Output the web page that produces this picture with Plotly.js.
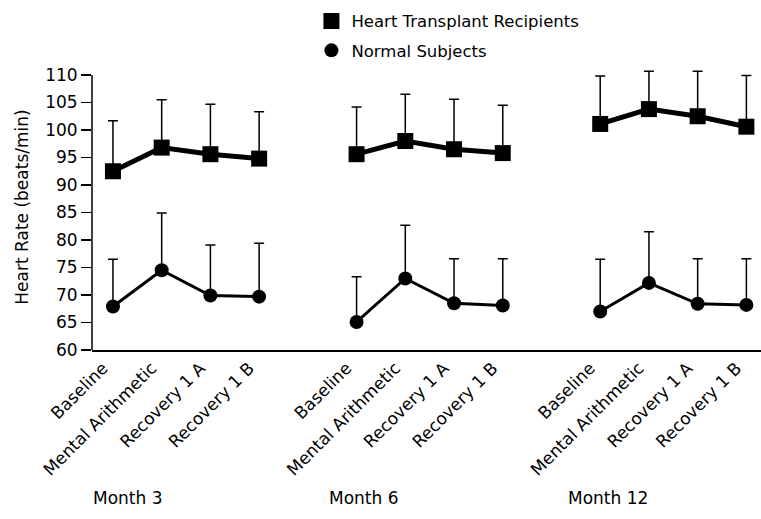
<!DOCTYPE html>
<html>
<head>
<meta charset="utf-8">
<script src="https://cdn.plot.ly/plotly-3.0.1.min.js"></script>
<style>html,body{margin:0;padding:0;background:#fff;}#chart{width:761px;height:519px;}</style>
</head>
<body>
<div id="chart"></div>
<script>
// Data
var conditions = ["Baseline", "Mental Arithmetic", "Recovery 1 A", "Recovery 1 B"];
var months = ["Month 3", "Month 6", "Month 12"];

var transplantMean = [
  [92.5, 96.8, 95.6, 94.8],
  [95.6, 98.0, 96.5, 95.8],
  [101.1, 103.8, 102.5, 100.6]
];
var transplantSD = [
  [9.2, 8.7, 9.1, 8.5],
  [8.6, 8.5, 9.1, 8.7],
  [8.7, 6.9, 8.2, 9.3]
];
var normalMean = [
  [67.9, 74.5, 69.9, 69.7],
  [65.1, 73.0, 68.5, 68.1],
  [67.0, 72.2, 68.4, 68.2]
];
var normalSD = [
  [8.6, 10.4, 9.2, 9.7],
  [8.2, 9.7, 8.1, 8.5],
  [9.5, 9.3, 8.2, 8.4]
];
var seriesNames = ["Heart Transplant Recipients", "Normal Subjects"];
var yMin = 60, yMax = 110;

var FONT = "DejaVu Sans, Liberation Sans, Arial, sans-serif";
var traces = [];
var tickvals = [], ticktext = [];

function xPos(m, i) { return m * (conditions.length + 1) + i; }

months.forEach(function (mName, m) {
  var xs = conditions.map(function (c, i) { return xPos(m, i); });
  xs.forEach(function (x, i) { tickvals.push(x); ticktext.push(conditions[i]); });
  traces.push({
    x: xs, y: transplantMean[m], type: "scatter", mode: "lines+markers",
    showlegend: false, cliponaxis: false,
    line: {color: "#000", width: 5},
    marker: {symbol: "square", size: 16, color: "#000"},
    error_y: {type: "data", symmetric: false, array: transplantSD[m],
      arrayminus: transplantSD[m].map(function () { return 0; }),
      color: "#000", thickness: 1.5, width: 5}
  });
  traces.push({
    x: xs, y: normalMean[m], type: "scatter", mode: "lines+markers",
    showlegend: false, cliponaxis: false,
    line: {color: "#000", width: 3},
    marker: {symbol: "circle", size: 14, color: "#000"},
    error_y: {type: "data", symmetric: false, array: normalSD[m],
      arrayminus: normalSD[m].map(function () { return 0; }),
      color: "#000", thickness: 1.5, width: 5}
  });
});

// legend-only traces
traces.push({x: [null], y: [null], type: "scatter", mode: "markers", name: seriesNames[0],
  legendgroup: "a", marker: {symbol: "square", size: 16, color: "#000"}});
traces.push({x: [null], y: [null], type: "scatter", mode: "markers", name: seriesNames[1],
  legendgroup: "b", marker: {symbol: "circle", size: 14, color: "#000"}});

var annotations = months.map(function (mName, m) {
  return {x: xPos(m, 0) + [0.3, 0.15, 0.16][m], xref: "x", y: 498, yref: "paper",
    text: mName, showarrow: false, xanchor: "center", yanchor: "middle",
    font: {family: FONT, size: 17, color: "#000"}};
});
// convert pixel row of month labels into paper coords
var mt = 64, mb = 169, H = 519;
annotations.forEach(function (a) { a.y = (H - mb - a.y) / (H - mt - mb); });

var layout = {
  width: 761, height: H,
  margin: {l: 92, r: 0, t: mt, b: mb},
  paper_bgcolor: "#fff", plot_bgcolor: "#fff",
  showlegend: true,
  legend: {x: 0.328, xanchor: "left", y: 1.211, yanchor: "top",
    font: {family: FONT, size: 16.5, color: "#000"}, tracegroupgap: 5,
    bgcolor: "rgba(0,0,0,0)"},
  xaxis: {
    range: [-0.43, 13.3], showgrid: false, zeroline: false,
    showline: true, linecolor: "#000", linewidth: 1.5,
    tickmode: "array", tickvals: tickvals, ticktext: ticktext,
    ticks: "", tickangle: -45, ticklabelshift: -10,
    tickfont: {family: FONT, size: 17, color: "#000"}
  },
  yaxis: {
    range: [yMin, yMax + 2], dtick: 5, tick0: 60, showgrid: false, zeroline: false,
    showline: false,
    ticks: "outside", ticklen: 10, tickwidth: 1.5, tickcolor: "#000",
    tickfont: {family: FONT, size: 17, color: "#000"},
    title: {text: "Heart Rate (beats/min)", font: {family: FONT, size: 17, color: "#000"}, standoff: 12}
  },
  shapes: [{type: "line", xref: "paper", yref: "y", x0: 0, x1: 0, y0: yMin, y1: yMax,
    line: {color: "#000", width: 1.5}}],
  annotations: annotations
};

Plotly.newPlot("chart", traces, layout, {displayModeBar: false, staticPlot: true});
</script>
</body>
</html>
